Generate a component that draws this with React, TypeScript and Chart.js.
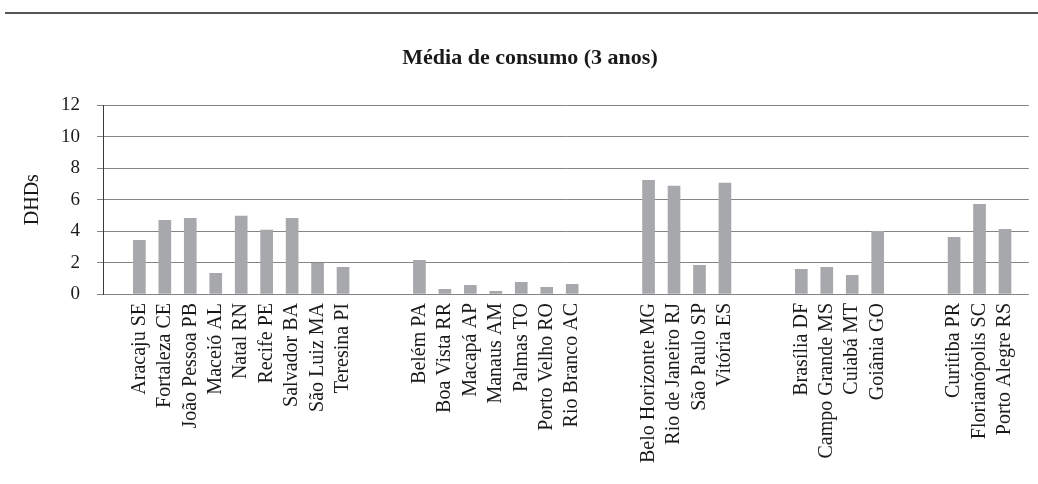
import React, { useEffect, useRef } from "react";
import { Chart, registerables } from "chart.js";

Chart.register(...registerables);

const chartTitle = "Média de consumo (3 anos)";
const yAxisTitle = "DHDs";

const categories: string[] = [
  "Aracaju SE", "Fortaleza CE", "João Pessoa PB", "Maceió AL", "Natal RN",
  "Recife PE", "Salvador BA", "São Luiz MA", "Teresina PI",
  "", "",
  "Belém PA", "Boa Vista RR", "Macapá AP", "Manaus AM", "Palmas TO",
  "Porto Velho RO", "Rio Branco AC",
  "", "",
  "Belo Horizonte MG", "Rio de Janeiro RJ", "São Paulo SP", "Vitória ES",
  "", "",
  "Brasília DF", "Campo Grande MS", "Cuiabá MT", "Goiânia GO",
  "", "",
  "Curitiba PR", "Florianópolis SC", "Porto Alegre RS",
];

const values: (number | null)[] = [
  3.42, 4.69, 4.82, 1.32, 4.95, 4.06, 4.82, 1.95, 1.70,
  null, null,
  2.14, 0.30, 0.55, 0.17, 0.74, 0.42, 0.62,
  null, null,
  7.24, 6.86, 1.83, 7.05,
  null, null,
  1.57, 1.70, 1.19, 3.99,
  null, null,
  3.61, 5.71, 4.12,
];

const yTicks = { min: 0, max: 12, step: 2 };

const FONT = "'Liberation Serif', 'Times New Roman', serif";

export default function App() {
  const canvasRef = useRef<HTMLCanvasElement | null>(null);

  useEffect(() => {
    document.body.style.margin = "0";
    const canvas = canvasRef.current;
    if (!canvas) return;

    const points = categories
      .map((_, i) => ({ x: i, y: values[i] }))
      .filter((p) => p.y !== null);

    const chart = new Chart(canvas, {
      type: "bar",
      data: {
        datasets: [
          {
            data: points as any,
            backgroundColor: "#a7a8ab",
            borderWidth: 0,
            barThickness: 12,
          },
        ],
      },
      options: {
        responsive: false,
        animation: false,
        devicePixelRatio: 1,
        layout: { padding: { left: 22, right: 0, top: 0, bottom: 0 } },
        plugins: {
          legend: { display: false },
          tooltip: { enabled: false },
          title: {
            display: true,
            text: chartTitle,
            color: "#1a1a1a",
            font: { family: FONT, size: 22, weight: "bold" },
            padding: { top: 45, bottom: 34 },
          },
        },
        scales: {
          x: {
            type: "linear",
            offset: false,
            min: -1.428,
            max: 34.934,
            grid: { display: false, drawTicks: false },
            border: { display: false },
            ticks: {
              stepSize: 1,
              autoSkip: false,
              includeBounds: false,
              maxTicksLimit: 100,
              maxRotation: 90,
              minRotation: 90,
              padding: 9,
              color: "#1a1a1a",
              font: { family: FONT, size: 20 },
              callback: (value: any) => {
                const v = Number(value);
                return Number.isInteger(v) && v >= 0 && v < categories.length
                  ? categories[v]
                  : "";
              },
            },
            afterFit: (scale: any) => {
              scale.height = 190;
            },
          },
          y: {
            min: yTicks.min,
            max: yTicks.max,
            grid: {
              color: "#858585",
              lineWidth: 1,
              drawTicks: true,
              tickLength: 6,
            },
            border: { display: true, color: "#3a3a3a", width: 1 },
            ticks: {
              stepSize: yTicks.step,
              padding: 17,
              color: "#1a1a1a",
              font: { family: FONT, size: 19 },
            },
            title: {
              display: true,
              text: yAxisTitle,
              color: "#1a1a1a",
              font: { family: FONT, size: 20, weight: "normal", lineHeight: 1 },
              padding: { top: 1, bottom: 0 },
            },
            afterFit: (scale: any) => {
              scale.width = 81;
            },
          },
        },
      },
    });

    return () => chart.destroy();
  }, []);

  return (
    <div style={{ position: "relative", width: 1038, height: 484, background: "#fff" }}>
      <div
        style={{
          position: "absolute",
          top: 12,
          left: 5,
          right: 0,
          height: 2,
          background: "#555",
        }}
      />
      <canvas
        ref={canvasRef}
        width={1038}
        height={484}
        style={{ display: "block", width: 1038, height: 484 }}
      />
    </div>
  );
}
